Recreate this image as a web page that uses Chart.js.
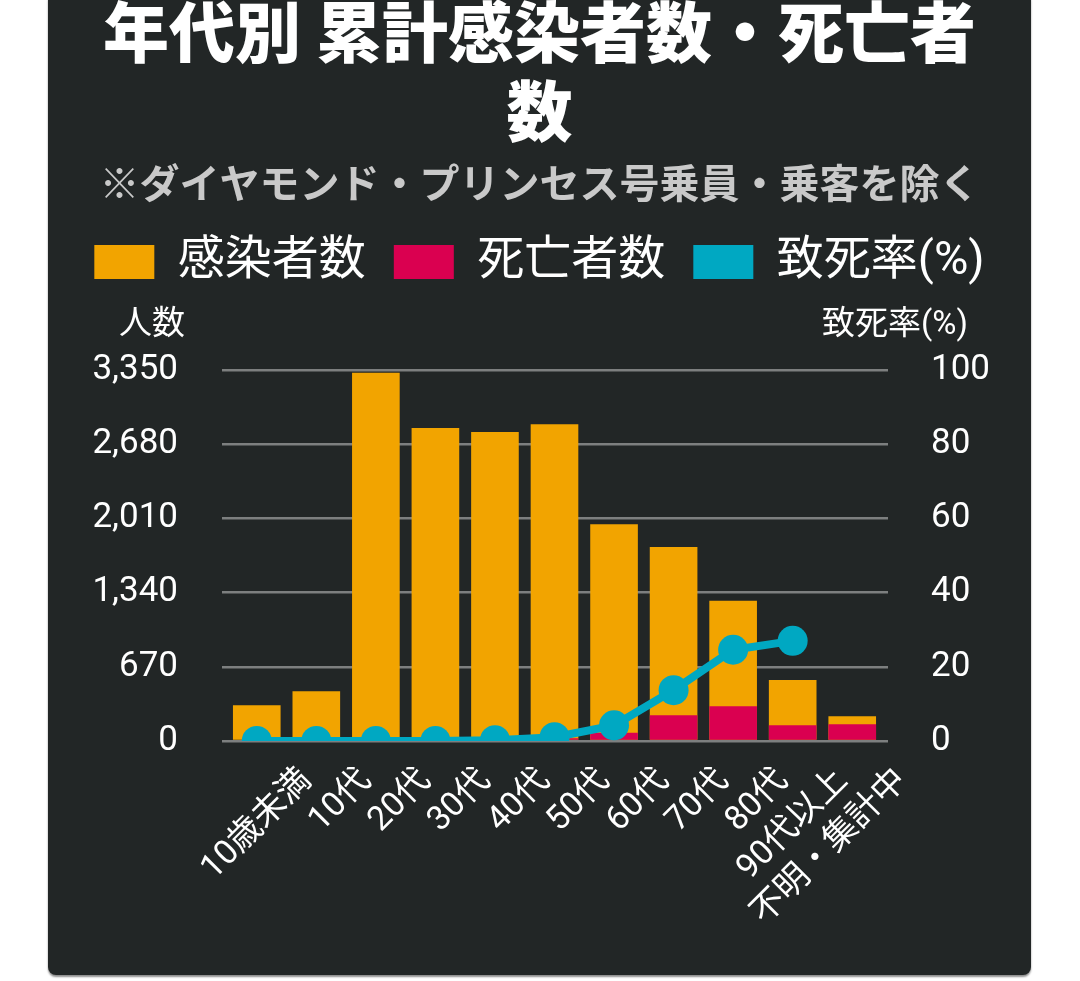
<!DOCTYPE html>
<html lang="ja">
<head>
<meta charset="utf-8">
<title>年代別 累計感染者数・死亡者数</title>
<script src="https://cdn.jsdelivr.net/npm/chart.js@4.4.1/dist/chart.umd.min.js"></script>
<style>
  html, body { margin: 0; padding: 0; background: #ffffff; }
  body { width: 1080px; height: 981px; overflow: hidden; position: relative; }
  .panel {
    position: absolute; left: 48px; top: -8px; width: 983px; height: 983px;
    background: #222626; border-radius: 8px;
    box-shadow: 0 2px 2px rgba(0, 0, 0, 0.45);
  }
  canvas { display: block; }
</style>
</head>
<body>
<div class="panel">
  <canvas id="myChart" width="983" height="983"></canvas>
</div>
<script>
// data
const categories = ['10歳未満', '10代', '20代', '30代', '40代', '50代', '60代', '70代', '80代', '90代以上', '不明・集計中'];
const infected = [323, 450, 3329, 2829, 2793, 2862, 1959, 1753, 1268, 550, 223];
const deaths = [0, 0, 0, 0, 3, 25, 73, 232, 314, 141, 150];
const fatalityRate = [0, 0, 0, 0, 0.2, 1.0, 4.2, 13.7, 24.6, 27.0, null];

const countTicks = [0, 670, 1340, 2010, 2680, 3350];
const rateTicks = [0, 20, 40, 60, 80, 100];

const titleLines = ['年代別 累計感染者数・死亡者', '数'];
const subtitleText = '※ダイヤモンド・プリンセス号乗員・乗客を除く';
const leftAxisTitle = '人数';
const rightAxisTitle = '致死率(%)';

const ORANGE = '#f2a400';
const RED = '#da0050';
const TEAL = '#00a8c2';
const GRID = '#7d7f7f';

Chart.defaults.font.family = "Roboto, 'Noto Sans CJK JP', sans-serif";
Chart.defaults.color = '#ffffff';

// push the plot down below the legend so the axis titles fit
const legendGap = {
  id: 'legendGap',
  beforeInit(chart) {
    if (!chart.legend) return;
    const fit = chart.legend.fit;
    chart.legend.fit = function () {
      fit.call(this);
      this.height += 75;
    };
  }
};

// horizontal axis titles above both y axes
const axisTitles = {
  id: 'axisTitles',
  afterDraw(chart) {
    const { ctx, chartArea } = chart;
    ctx.save();
    ctx.fillStyle = '#ffffff';
    ctx.font = "33px Roboto, 'Noto Sans CJK JP'";
    ctx.textBaseline = 'middle';
    ctx.textAlign = 'right';
    ctx.fillText(leftAxisTitle, chartArea.left - 42, chartArea.top - 45);
    ctx.fillText(rightAxisTitle, chartArea.right + 86, chartArea.top - 45);
    ctx.restore();
  }
};

const ctx = document.getElementById('myChart').getContext('2d');
const chart = new Chart(ctx, {
  data: {
    labels: categories,
    datasets: [
      {
        type: 'bar',
        label: '感染者数',
        data: infected,
        backgroundColor: ORANGE,
        borderWidth: 0,
        yAxisID: 'y',
        order: 3
      },
      {
        type: 'bar',
        label: '死亡者数',
        data: deaths,
        backgroundColor: RED,
        borderWidth: 0,
        yAxisID: 'y',
        order: 2
      },
      {
        type: 'line',
        label: '致死率(%)',
        data: fatalityRate,
        borderColor: TEAL,
        backgroundColor: TEAL,
        borderWidth: 8,
        pointRadius: 15,
        pointBackgroundColor: TEAL,
        pointBorderWidth: 0,
        tension: 0,
        yAxisID: 'y2',
        order: 1
      }
    ]
  },
  options: {
    responsive: false,
    animation: false,
    layout: { padding: { left: 0, right: 0, top: 0, bottom: 21 } },
    datasets: {
      bar: { categoryPercentage: 0.8, barPercentage: 1.0 }
    },
    plugins: {
      title: {
        display: true,
        text: titleLines,
        color: '#ffffff',
        font: { family: "'Noto Sans CJK JP'", size: 66, weight: '900', lineHeight: 1.2 },
        padding: { top: 0, bottom: 12 }
      },
      subtitle: {
        display: true,
        text: subtitleText,
        color: '#c9c9c9',
        font: { family: "'Noto Sans CJK JP'", size: 40, weight: 'bold', lineHeight: 1.0 },
        padding: { top: 0, bottom: 8 }
      },
      legend: {
        display: true,
        position: 'top',
        labels: {
          color: '#ffffff',
          font: { size: 47 },
          boxWidth: 60,
          boxHeight: 34,
          padding: 28,
          sort: (a, b) => a.datasetIndex - b.datasetIndex,
          generateLabels: (c) =>
            Chart.defaults.plugins.legend.labels.generateLabels(c).map((l) => ({ ...l, lineWidth: 0 }))
        }
      },
      tooltip: { enabled: false }
    },
    scales: {
      x: {
        stacked: true,
        grid: { display: false, drawTicks: false },
        border: { display: false },
        ticks: {
          color: '#ffffff',
          font: { size: 34 },
          minRotation: 45,
          maxRotation: 45,
          autoSkip: false,
          padding: 20,
          labelOffset: 50
        }
      },
      y: {
        position: 'left',
        min: 0,
        max: 3350,
        afterBuildTicks: (s) => { s.ticks = countTicks.map((v) => ({ value: v })); },
        afterFit: (s) => { s.width = 179; },
        grid: { color: GRID, lineWidth: 2.5, tickLength: 5 },
        border: { display: false },
        ticks: {
          color: '#ffffff',
          font: { size: 35 },
          padding: 44,
          callback: (v) => Number(v).toLocaleString('en-US')
        }
      },
      y2: {
        position: 'right',
        min: 0,
        max: 100,
        afterBuildTicks: (s) => { s.ticks = rateTicks.map((v) => ({ value: v })); },
        afterFit: (s) => { s.width = 149; },
        grid: { drawOnChartArea: false, color: GRID, lineWidth: 2.5, tickLength: 6 },
        border: { display: false },
        ticks: {
          color: '#ffffff',
          font: { size: 35 },
          padding: 43
        }
      }
    }
  },
  plugins: [legendGap, axisTitles]
});
</script>
</body>
</html>
